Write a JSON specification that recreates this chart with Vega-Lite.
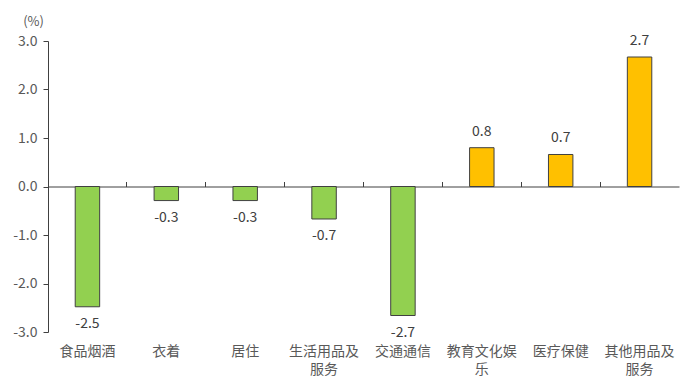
{
  "$schema": "https://vega.github.io/schema/vega-lite/v6.json",
  "width": 631,
  "height": 291,
  "autosize": {"type": "none"},
  "padding": {"left": 48, "top": 41, "right": 6, "bottom": 56},
  "background": "white",
  "config": {
    "view": {"stroke": null},
    "font": "Noto Sans CJK SC",
    "axis": {"grid": false}
  },
  "data": {
    "values": [
      {"category": "食品烟酒", "value": -2.48, "label": "-2.5"},
      {"category": "衣着", "value": -0.29, "label": "-0.3"},
      {"category": "居住", "value": -0.29, "label": "-0.3"},
      {"category": "生活用品及服务", "value": -0.67, "label": "-0.7"},
      {"category": "交通通信", "value": -2.66, "label": "-2.7"},
      {"category": "教育文化娱乐", "value": 0.8, "label": "0.8"},
      {"category": "医疗保健", "value": 0.66, "label": "0.7"},
      {"category": "其他用品及服务", "value": 2.67, "label": "2.7"}
    ]
  },
  "encoding": {
    "x": {
      "field": "category",
      "type": "nominal",
      "sort": null,
      "scale": {"paddingInner": 0, "paddingOuter": 0},
      "axis": null
    },
    "y": {
      "field": "value",
      "type": "quantitative",
      "scale": {"domain": [-3, 3], "nice": false},
      "axis": {
        "values": [-3, -2, -1, 0, 1, 2, 3],
        "labelExpr": "replace(format(datum.value, '.1f'), '\u2212', '-')",
        "title": "(%)",
        "titleAngle": 0,
        "titleAlign": "center",
        "titleBaseline": "bottom",
        "titleX": -15,
        "titleY": -13,
        "titleFontSize": 13,
        "titleFontWeight": "normal",
        "titleColor": "#595959",
        "labelFontSize": 14,
        "labelColor": "#595959",
        "labelPadding": 6,
        "domainColor": "#404040",
        "tickColor": "#404040",
        "tickSize": 5
      }
    }
  },
  "layer": [
    {
      "mark": {"type": "bar", "width": {"band": 0.31}, "stroke": "#404040", "strokeWidth": 1},
      "encoding": {
        "x": {
          "field": "category",
          "type": "nominal",
          "sort": null,
          "scale": {"paddingInner": 0, "paddingOuter": 0},
          "axis": {
            "orient": "bottom",
            "title": null,
            "domain": false,
            "ticks": false,
            "labelAngle": 0,
            "labelPadding": 12,
            "labelBaseline": "top",
            "labelFontSize": 14,
            "labelColor": "#595959",
            "labelLineHeight": 18,
            "labelExpr": "length(datum.label) > 4 ? [substring(datum.label, 0, 5), substring(datum.label, 5)] : datum.label"
          }
        },
        "color": {
          "condition": {"test": "datum.value < 0", "value": "#92D050"},
          "value": "#FFC000"
        }
      }
    },
    {
      "transform": [{"filter": "datum.category == '食品烟酒'"}],
      "mark": {"type": "rule", "color": "#404040", "strokeWidth": 1},
      "encoding": {
        "x": {
          "field": "category",
          "type": "nominal",
          "sort": null,
          "scale": {"paddingInner": 0, "paddingOuter": 0},
          "axis": {
            "orient": "top",
            "offset": -145.5,
            "labels": false,
            "title": null,
            "domain": true,
            "domainColor": "#404040",
            "ticks": true,
            "tickColor": "#404040",
            "tickSize": 5,
            "bandPosition": 0
          }
        },
        "opacity": {"value": 0}
      }
    },
    {
      "transform": [{"filter": "datum.value >= 0"}],
      "mark": {"type": "text", "baseline": "bottom", "dy": -9, "fontSize": 14, "color": "#404040"},
      "encoding": {"text": {"field": "label"}}
    },
    {
      "transform": [{"filter": "datum.value < 0"}],
      "mark": {"type": "text", "baseline": "top", "dy": 10, "fontSize": 14, "color": "#404040"},
      "encoding": {"text": {"field": "label"}}
    }
  ],
  "resolve": {"axis": {"x": "independent"}}
}
